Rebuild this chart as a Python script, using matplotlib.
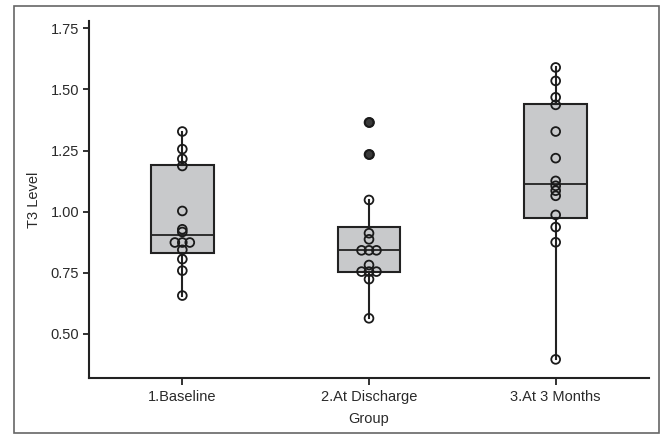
import numpy as np
import matplotlib
matplotlib.use("Agg")
import matplotlib.pyplot as plt
from matplotlib.patches import Rectangle

plt.rcParams['font.family'] = ['Liberation Sans', 'DejaVu Sans']

# T3 level per patient for each time point
groups = ['1.Baseline', '2.At Discharge', '3.At 3 Months']
baseline = [1.328, 1.256, 1.216, 1.187, 1.003, 0.928, 0.917, 0.874, 0.874,
            0.874, 0.844, 0.806, 0.759, 0.657]
discharge = [1.365, 1.234, 1.048, 0.912, 0.887, 0.842, 0.842, 0.842, 0.782,
             0.755, 0.755, 0.755, 0.724, 0.564]
month3 = [1.590, 1.535, 1.468, 1.437, 1.328, 1.219, 1.126, 1.106, 1.086,
          1.065, 0.987, 0.937, 0.875, 0.396]
values = [baseline, discharge, month3]

# box summaries (hinges, median, whisker ends, outliers)
q1 = [0.833, 0.755, 0.973]
med = [0.905, 0.842, 1.113]
q3 = [1.189, 0.939, 1.441]
whislo = [0.657, 0.564, 0.396]
whishi = [1.328, 1.048, 1.590]
outliers = [[], [1.365, 1.234], []]

fig = plt.figure(figsize=(6.62, 4.34), dpi=100)
ax = fig.add_axes([0.1344, 0.1297, 0.846, 0.8219])

stats = []
for i in range(3):
    stats.append(dict(label=groups[i], q1=q1[i], med=med[i], q3=q3[i],
                      whislo=whislo[i], whishi=whishi[i], fliers=outliers[i]))

pos = np.arange(1, 4)
ax.bxp(stats, positions=pos, widths=0.337, patch_artist=True, showcaps=False,
       boxprops=dict(facecolor='#c8c9cb', edgecolor='#222222', linewidth=1.5),
       medianprops=dict(color='#222222', linewidth=1.3),
       whiskerprops=dict(color='#222222', linewidth=1.5),
       flierprops=dict(marker='o', markersize=6.5, markerfacecolor='#3a3a3a',
                       markeredgecolor='#1a1a1a', markeredgewidth=1.2),
       zorder=2)

# individual points, repeated values spread sideways
step = 0.04
for i, vals in enumerate(values):
    vals = np.array(vals)
    xs = np.full(len(vals), float(pos[i]))
    for v in np.unique(vals):
        idx = np.where(vals == v)[0]
        n = len(idx)
        xs[idx] += (np.arange(n) - (n - 1) / 2) * step
    ax.scatter(xs, vals, s=40, facecolors='none', edgecolors='#1a1a1a',
               linewidths=1.3, zorder=3)

ax.set_xlim(0.5, 3.5)
ax.set_ylim(0.321, 1.78)
ax.set_yticks([0.50, 0.75, 1.00, 1.25, 1.50, 1.75])
ax.set_yticklabels(['0.50', '0.75', '1.00', '1.25', '1.50', '1.75'])
ax.set_xticks(pos)
ax.set_xticklabels(groups)

for s in ['top', 'right']:
    ax.spines[s].set_visible(False)
for s in ['left', 'bottom']:
    ax.spines[s].set_linewidth(1.5)
    ax.spines[s].set_color('#222222')

ax.tick_params(axis='both', labelsize=10.5, colors='#222222', width=1.3,
               length=4, labelcolor='#2a2a2a')
ax.tick_params(axis='x', length=5, pad=4)
ax.tick_params(axis='y', pad=3)

ax.set_ylabel('T3 Level', fontsize=10.5, color='#2a2a2a')
ax.yaxis.set_label_coords(-0.086, 0.5)
ax.set_xlabel('Group', fontsize=10.5, color='#2a2a2a', va='top')
ax.xaxis.set_label_coords(0.5, -0.095)

# frame round the whole chart
fig.patches.append(Rectangle((14 / 662, 1 - 433 / 434), 645 / 662, 427 / 434,
                             transform=fig.transFigure, fill=False,
                             edgecolor='#666666', linewidth=1.2))

fig.savefig('out.png', dpi=100)
